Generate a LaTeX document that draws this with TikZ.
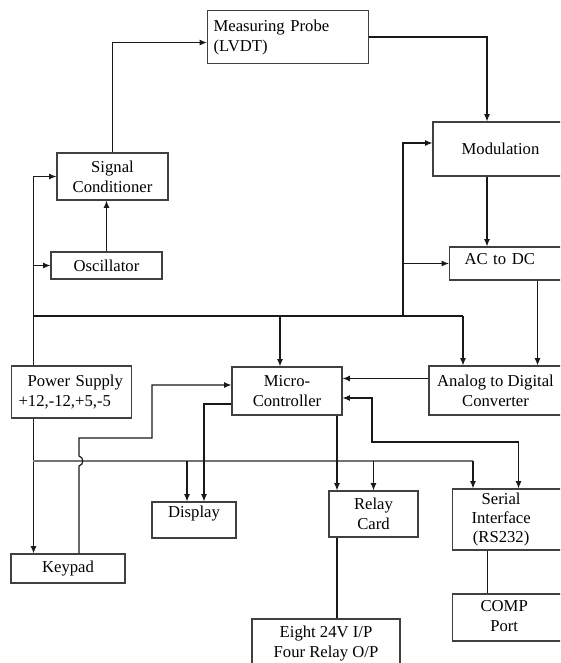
\documentclass[tikz,border=0pt]{standalone}
\usepackage{fontspec}
\setmainfont{Liberation Serif}
\usetikzlibrary{calc, positioning, arrows.meta}
\tikzset{
block/.style={draw=black!75, line width=0.8pt, align=center, inner sep=2pt,
  font=\fontsize{12.5}{15}\selectfont},
blksize/.style 2 args={minimum width=#1*0.75pt, minimum height=#2*0.75pt},
wire/.style={line width=0.9pt, draw=black!90},
bus/.style={line width=0.8pt, draw=black!55},
}

\begin{document}
\begin{tikzpicture}[x=0.75pt, y=-0.75pt, >={Latex[length=5.5pt,width=4.5pt]}]
\useasboundingbox (0,0) rectangle (560,663);
\clip (0,0) rectangle (560,663);

% blocks
\node[block, anchor=north west, align=left, text width=111.75pt, inner xsep=4.5pt, minimum height=53*0.75pt] (probe) at (207,10) {Measuring Probe\\(LVDT)};
\node[block, blksize={111}{47}] (signal) at (112.5,176.5) {Signal\\Conditioner};
\node[block, blksize={111}{27}] (osc) at (106.5,265.5) {Oscillator};
\node[block, blksize={135}{54}] (modul) at (500.5,149) {Modulation};
\node[block, anchor=west, align=left, text width=66.75pt, inner xsep=11.25pt, minimum height=33*0.75pt, text depth=7.5pt] (acdc) at (449,263.5) {AC to DC};
\node[block, blksize={133}{49}] (adc) at (495.5,390.5) {Analog to Digital\\Converter};
\node[block, anchor=west, align=left, text width=79.5pt, inner xsep=5.25pt, minimum height=52*0.75pt] (power) at (11,392) {\hspace*{6.75pt}Power Supply\\+12,-12,+5,-5};
\node[block, blksize={110}{48}] (micro) at (287,391) {Micro-\\Controller};
\node[block, blksize={114}{29}] (keypad) at (68,568.5) {Keypad};
\node[block, blksize={84}{36}, text depth=13pt] (display) at (194,520) {Display};
\node[block, blksize={89}{46}] (relay) at (373.5,514) {Relay\\Card};
\node[block, anchor=west, align=left, text width=58.5pt, inner xsep=14.25pt, inner ysep=0.5pt, minimum height=61*0.75pt, font=\fontsize{12.5}{14.5}\selectfont] (serial) at (452,519.5) {\begin{tabular}{@{}c@{}}Serial\\Interface\\(RS232)\end{tabular}};
\node[block, anchor=west, align=left, text width=45pt, inner xsep=21pt, minimum height=47*0.75pt] (comp) at (452,617.5) {\begin{tabular}{@{}c@{}}COMP\\Port\end{tabular}};
\node[block, blksize={148}{50}] (io) at (326,644) {Eight 24V I/P\\Four Relay O/P};

% bus points
\coordinate (ps) at ($(power.north)+(-38,0)$);
\coordinate (busA) at (33,316);
\coordinate (busB) at (463,316);
\coordinate (tap) at (403,316);
\coordinate (busC) at (33,461);
\coordinate (busD) at (473,461);
\coordinate (sj) at (372,442);
\coordinate (kj) at (152,438);

% measuring chain
\draw[wire,->] (signal.north) |- ($(probe.west)+(0,5.5)$);
\draw[wire,->] (probe.east) -| ($(modul.north)+(-13.5,0)$);
\draw[wire,->] ($(modul.south)+(-13.5,0)$) coordinate (m1) -- (m1 |- acdc.north);
\draw[wire,->] ($(acdc.south)+(28.5,0)$) coordinate (m2) -- (m2 |- adc.north);
\draw[wire,->] ($(adc.west)+(0,-12)$) coordinate (a1) -- (a1 -| micro.east);
\draw[wire,->] (osc.north) -- (osc.north |- signal.south);

% supply lines
\draw[wire,->] (ps) |- (signal.west);
\draw[wire,->] (ps |- osc.west) -- (osc.west);
\draw[wire] (busA) -- (busB);
\draw[wire,->] (tap) |- ($(modul.west)+(0,-6)$);
\draw[wire,->] (tap |- acdc.west) -- (acdc.west);
\draw[wire,->] (busB) -- (busB |- adc.north);
\draw[wire,<-] ($(micro.north)+(-7,0)$) coordinate (m3) -- (m3 |- busA);
\draw[wire,->] (power.south -| ps) -- (keypad.north -| ps);
\draw[bus] (busC) -- (busD);
\draw[wire,->] (busD) -- (busD |- serial.north);
\draw[wire,->] (busC -| relay.north) -- (relay.north);
\draw[wire,<-] ($(display.north)+(-7,0)$) coordinate (d1) -- (d1 |- busC);

% controller outputs
\draw[wire,->] ($(micro.west)+(0,13)$) -| ($(display.north)+(10,0)$);
\draw[wire,->] ($(micro.south)+(50,0)$) coordinate (m4) -- (m4 |- relay.north);
\draw[wire] (m4 |- relay.south) -- (m4 |- io.north);
\draw[wire,<->] ($(micro.east)+(0,7)$) -| (sj) -| ($(serial.north)+(8,0)$);
\draw[wire] ($(serial.south)+(-23,0)$) coordinate (s1) -- (s1 |- comp.north);

% keypad with hop over the bus
\draw[wire,->] ($(keypad.north)+(11,0)$) coordinate (k1) -- ($(k1 |- busC)+(0,5)$)
  .. controls +(5,-1) and +(5,1) .. ($(k1 |- busC)+(0,-5)$) |- (kj) |- ($(micro.west)+(0,-6)$);
\end{tikzpicture}
\end{document}
